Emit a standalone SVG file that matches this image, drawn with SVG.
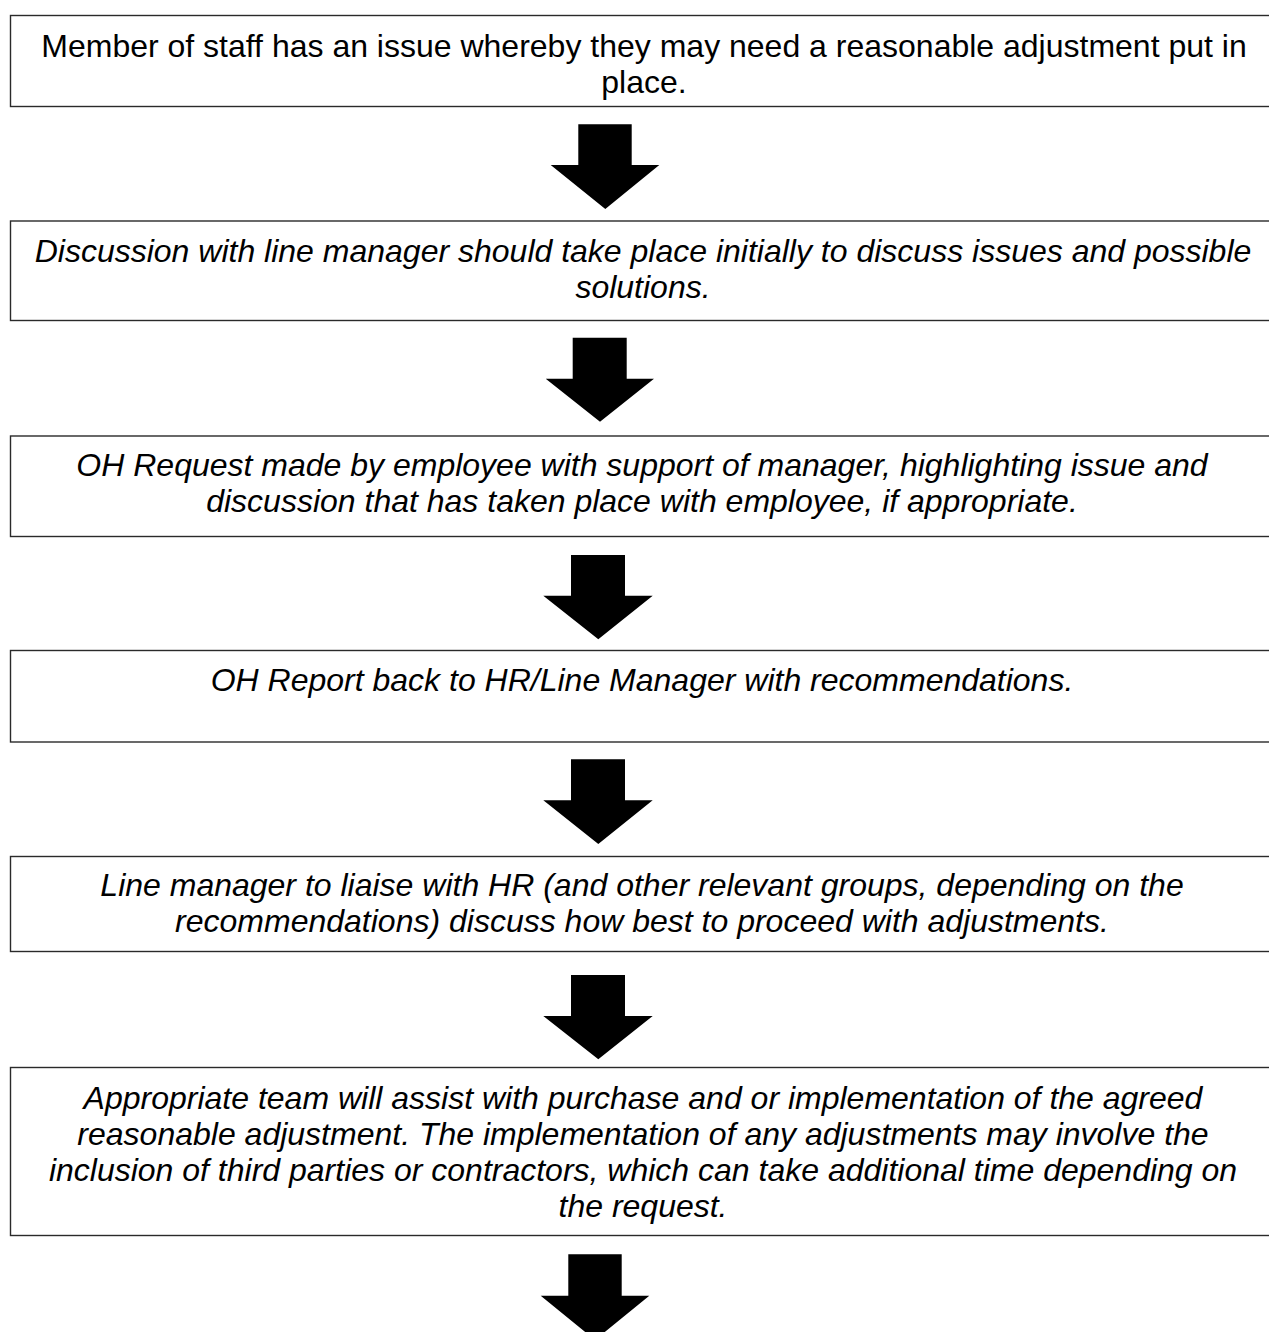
<svg xmlns="http://www.w3.org/2000/svg" width="1269" height="1332" viewBox="0 0 1269 1332">
<style>
.box{fill:#fff;stroke:#2a2a2a;stroke-width:1.4}
.t{font-family:"Liberation Sans",Arial,sans-serif;font-size:32px;fill:#000;text-anchor:middle}
.i{font-style:italic}
.arr{fill:#000}
</style>
<rect width="1269" height="1332" fill="#fff"/>
<g id="node1">
<rect class="box" x="10.5" y="15.5" width="1270" height="91"/>
<text class="t" x="644" y="56.5">Member of staff has an issue whereby they may need a reasonable adjustment put in</text>
<text class="t" x="644" y="92.5">place.</text>
</g>
<g id="node2">
<rect class="box" x="10.5" y="221" width="1270" height="99.5"/>
<text class="t i" x="643" y="262">Discussion with line manager should take place initially to discuss issues and possible</text>
<text class="t i" x="643" y="298">solutions.</text>
</g>
<g id="node3">
<rect class="box" x="10.5" y="436" width="1270" height="100.5"/>
<text class="t i" x="642" y="476">OH Request made by employee with support of manager, highlighting issue and</text>
<text class="t i" x="642" y="512">discussion that has taken place with employee, if appropriate.</text>
</g>
<g id="node4">
<rect class="box" x="10.5" y="650.5" width="1270" height="91.5"/>
<text class="t i" x="642" y="690.5">OH Report back to HR/Line Manager with recommendations.</text>
</g>
<g id="node5">
<rect class="box" x="10.5" y="856.5" width="1270" height="95"/>
<text class="t i" x="642" y="896">Line manager to liaise with HR (and other relevant groups, depending on the</text>
<text class="t i" x="642" y="932">recommendations) discuss how best to proceed with adjustments.</text>
</g>
<g id="node6">
<rect class="box" x="10.5" y="1067.5" width="1270" height="168"/>
<text class="t i" x="643" y="1108.5">Appropriate team will assist with purchase and or implementation of the agreed</text>
<text class="t i" x="643" y="1144.5">reasonable adjustment. The implementation of any adjustments may involve the</text>
<text class="t i" x="643" y="1180.5">inclusion of third parties or contractors, which can take additional time depending on</text>
<text class="t i" x="643" y="1216.5">the request.</text>
</g>
<g id="connectors">
<polygon class="arr" points="578.3,124.3 631.7,124.3 631.7,165 659.3,165 605.3,209 550.7,165 578.3,165"/>
<polygon class="arr" points="572.7,337.7 626.7,337.7 626.7,378.7 654,378.7 600,421.7 545.7,378.7 572.7,378.7"/>
<polygon class="arr" points="571,555 625,555 625,595.7 652.7,595.7 598.3,639.3 543.3,595.7 571,595.7"/>
<polygon class="arr" points="571,759.3 625,759.3 625,800.3 652.7,800.3 598.3,844 543.3,800.3 571,800.3"/>
<polygon class="arr" points="571,975 625,975 625,1016 652.7,1016 598.3,1059.3 543.3,1016 571,1016"/>
<polygon class="arr" points="568.3,1254.3 621.7,1254.3 621.7,1295.7 649.3,1295.7 595,1340 540.7,1295.7 568.3,1295.7"/>
</g>
</svg>
